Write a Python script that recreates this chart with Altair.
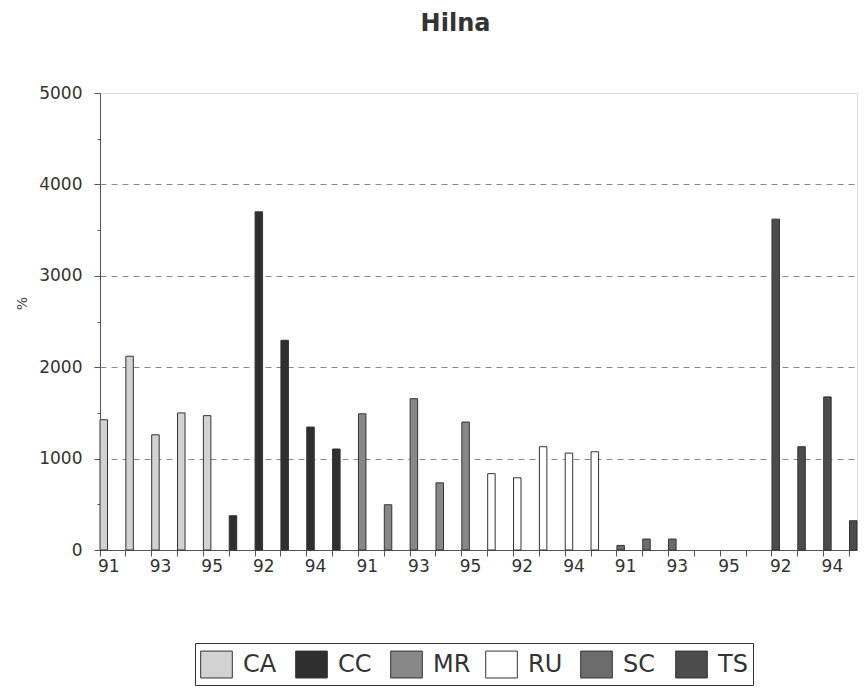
import altair as alt
import pandas as pd

groups = ["CA", "CC", "MR", "RU", "SC", "TS"]
years = ["91", "92", "93", "94", "95"]

CA = [1425, 2120, 1260, 1500, 1470]
CC = [375, 3700, 2295, 1345, 1105]
MR = [1490, 495, 1655, 735, 1400]
RU = [835, 790, 1130, 1060, 1075]
SC = [50, 120, 120, 0, 0]
TS = [0, 3620, 1130, 1675, 320]
series = [CA, CC, MR, RU, SC, TS]

fills = ["#d2d2d2", "#2f2f2f", "#888888", "#ffffff", "#6c6c6c", "#4c4c4c"]

rows = []
tick_labels = []
for gi, g in enumerate(groups):
    for yi, y in enumerate(years):
        idx = gi * len(years) + yi
        rows.append({"idx": idx, "group": g, "year": y, "value": series[gi][yi]})
        tick_labels.append(y if idx % 2 == 0 else "")
df = pd.DataFrame(rows)

label_expr = "[" + ",".join("'" + t + "'" for t in tick_labels) + "][datum.value]"

FONT = "DejaVu Sans"

chart = alt.Chart(df).mark_bar(stroke="#333333", strokeWidth=1).encode(
    x=alt.X(
        "idx:O",
        scale=alt.Scale(paddingInner=0.71, paddingOuter=0),
        axis=alt.Axis(
            title=None,
            labelExpr=label_expr,
            labelAngle=0,
            labelOverlap=False,
            bandPosition=0,
            labelOffset=5,
            labelFontSize=17,
            labelColor="#333333",
            labelPadding=2,
            tickSize=6,
            tickColor="#555555",
            domainColor="#555555",
            labelFont=FONT,
        ),
    ),
    y=alt.Y(
        "value:Q",
        scale=alt.Scale(domain=[0, 5000], nice=False),
        axis=alt.Axis(
            values=list(range(0, 5001, 500)),
            format="d",
            labelExpr="datum.value % 1000 == 0 ? datum.label : ''",
            title="%",
            titleFontSize=14,
            titleFontWeight="normal",
            titleColor="#444444",
            titleFont=FONT,
            titleX=-78,
            titleY=210,
            titleAngle=270,
            titleAlign="center",
            titleBaseline="middle",
            labelFontSize=17,
            labelColor="#333333",
            labelFont=FONT,
            labelPadding=12,
            tickColor="#555555",
            tickSize={"condition": {"test": "datum.value % 1000 != 0", "value": 3}, "value": 6},
            domainColor="#555555",
            grid=True,
            gridColor="#888888",
            gridDash=[6, 5],
            gridOpacity={
                "condition": {
                    "test": "datum.value % 1000 != 0 || datum.value == 0 || datum.value == 5000",
                    "value": 0,
                },
                "value": 1,
            },
        ),
    ),
    fill=alt.Fill(
        "group:N",
        scale=alt.Scale(domain=groups, range=fills),
        legend=alt.Legend(
            title=None,
            orient="none",
            legendX=95,
            legendY=550,
            direction="horizontal",
            columns=6,
            gridAlign="all",
            symbolType="M-1,-0.85H1V0.85H-1Z",
            symbolSize=1000,
            symbolStrokeColor="#333333",
            symbolStrokeWidth=1,
            symbolOpacity=1,
            labelFontSize=24,
            labelFont=FONT,
            labelColor="#333333",
            labelOffset=10,
            columnPadding=12,
            padding=5,
            strokeColor="#333333",
        ),
    ),
    strokeOpacity=alt.condition(alt.datum.value > 0, alt.value(1), alt.value(0)),
).properties(
    width=757,
    height=457,
    autosize=alt.AutoSizeParams(type="none"),
    padding={"left": 92, "top": 85, "right": 2, "bottom": 145},
    title=alt.TitleParams(
        "Hilna",
        fontSize=24,
        fontWeight="bold",
        font=FONT,
        color="#333333",
        anchor="middle",
        frame="group",
        dx=-23,
        offset=48,
    ),
).configure_view(
    stroke="#666666", strokeWidth=1
).configure(background="white")

chart.save("out.html", embed_options={"renderer": "svg", "actions": False})
